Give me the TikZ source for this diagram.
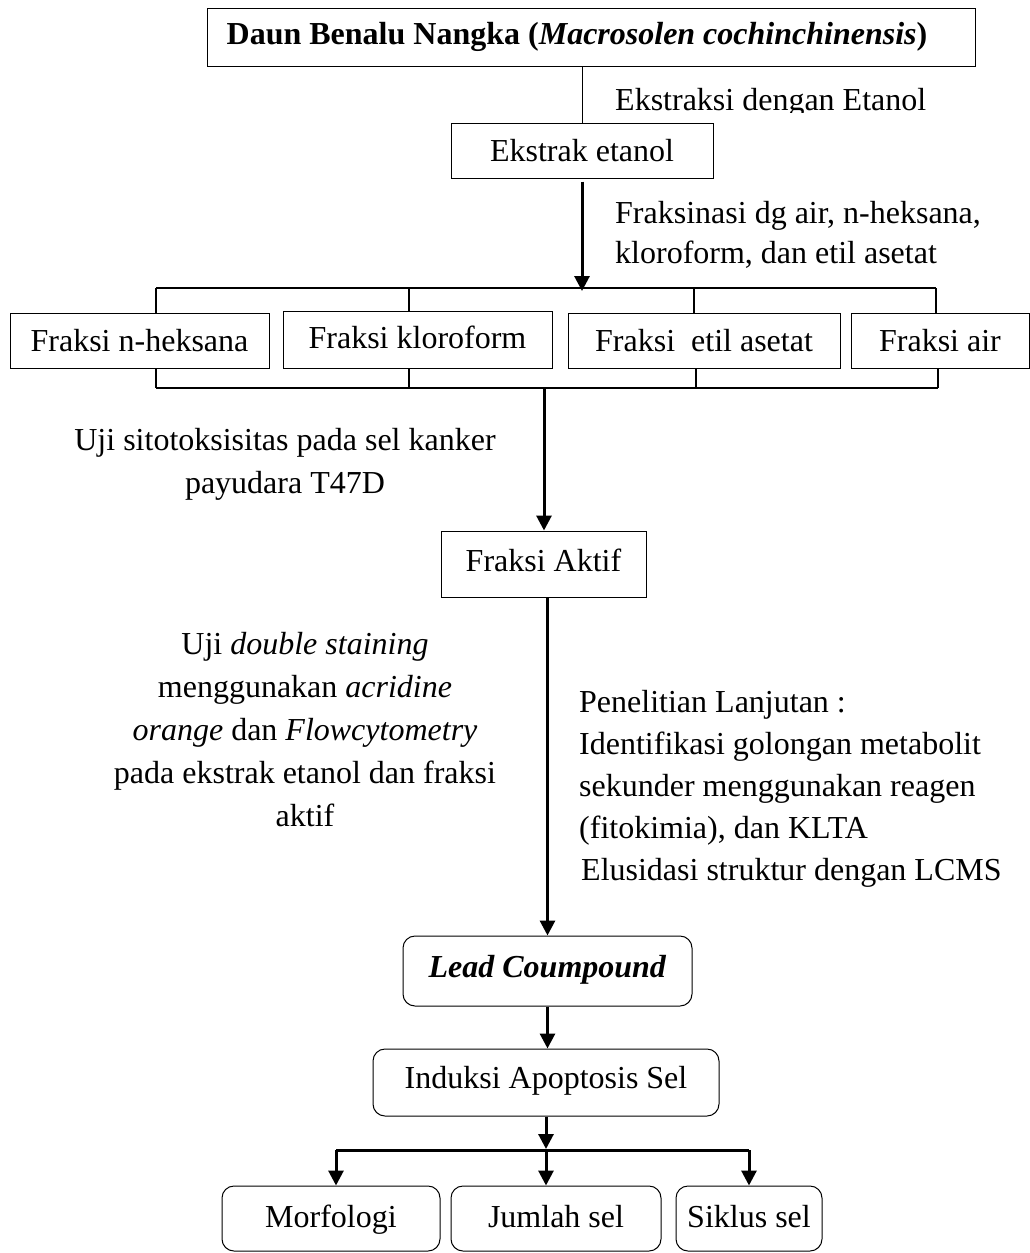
\documentclass[tikz,border=0pt]{standalone}
\usepackage{fontspec}
\setmainfont{Liberation Serif}
\usetikzlibrary{arrows.meta}
\begin{document}
\begin{tikzpicture}[x=1pt,y=-1pt,
  every node/.style={font=\fontsize{32}{42}\selectfont, inner sep=0pt},
  sqbox/.style={draw, line width=1pt, text height=22pt, text depth=0pt},
  rbox/.style={draw, line width=1pt, rounded corners=12pt, text height=22pt, text depth=0pt},
  thinline/.style={line width=1pt},
  bracketline/.style={line width=2pt},
  stem/.style={line width=1.3pt},
  arr/.style={line width=3pt, -{Triangle[length=15pt,width=15pt]}},
  branch/.style={line width=3pt}]
\useasboundingbox (0,0) rectangle (1030,1253);

% top
\node[sqbox, minimum width=768pt, minimum height=58pt] (top) at (591,37) {};
\node[font=\fontsize{32}{42}\selectfont\bfseries] (toptxt) at (577,37) {Daun Benalu Nangka (\textit{Macrosolen cochinchinensis})};
\node[sqbox, minimum width=262pt, minimum height=55pt] (ekstrak) at (582,150.5) {Ekstrak etanol};
\draw[thinline] (ekstrak.north |- top.south) -- (ekstrak.north);
\begin{scope}
  \clip (600,60) rectangle (1000,112);
  \node[anchor=west] (lbleks) at (615,102.5) {Ekstraksi dengan Etanol};
\end{scope}

% fractionation
\coordinate (tb) at (582,288);
\draw[arr] ([yshift=-3pt]ekstrak.south) -- ([yshift=-3pt]tb);
\node[anchor=west, align=left, font=\fontsize{32}{40}\selectfont] (lblfrak) at (615,235) {Fraksinasi dg air, n-heksana,\\kloroform, dan etil asetat};

\node[sqbox, minimum width=259pt, minimum height=55pt] (fnh) at (139.5,340.5) {Fraksi n-heksana};
\node[sqbox, minimum width=269pt, minimum height=57pt] (fkl) at (417.5,339.5) {\raisebox{2pt}{Fraksi kloroform}};
\node[sqbox, minimum width=272pt, minimum height=55pt] (fea) at (704,340.5) {Fraksi\ \ etil asetat};
\node[sqbox, minimum width=178pt, minimum height=55pt] (fair) at (940,340.5) {Fraksi air};

\coordinate (t1) at (156,288);
\coordinate (t2) at (409,288);
\coordinate (t3) at (694,288);
\coordinate (t4) at (936,288);
\draw[bracketline] (t1) -- (t4);
\draw[stem] (t1) -- (t1 |- fnh.north);
\draw[stem] (t2) -- (t2 |- fkl.north);
\draw[stem] (t3) -- (t3 |- fea.north);
\draw[stem] (t4) -- (t4 |- fair.north);

\coordinate (b1) at (156,388);
\coordinate (b2) at (409,388);
\coordinate (b3) at (696,388);
\coordinate (b4) at (938,388);
\draw[bracketline] (b1) -- (b4);
\draw[stem] (b1 |- fnh.south) -- (b1);
\draw[stem] (b2 |- fkl.south) -- (b2);
\draw[stem] (b3 |- fea.south) -- (b3);
\draw[stem] (b4 |- fair.south) -- (b4);

\node[align=center, font=\fontsize{32}{43}\selectfont] (lblsito) at (285,464) {Uji sitotoksisitas pada sel kanker\\payudara T47D};

% active fraction
\node[sqbox, minimum width=205pt, minimum height=66pt] (aktif) at (543.5,564) {\raisebox{4pt}{Fraksi Aktif}};
\coordinate (bb) at (544,388);
\draw[arr] (bb) -- (bb |- aktif.north);

\node[align=center, font=\fontsize{32}{43}\selectfont] (lblds) at (305,730) {Uji \textit{double staining}\\menggunakan \textit{acridine}\\\textit{orange} dan \textit{Flowcytometry}\\pada ekstrak etanol dan fraksi\\aktif};
\node[anchor=west, align=left, font=\fontsize{32}{42}\selectfont] (lbllanj) at (579,789) {Penelitian Lanjutan :\\Identifikasi golongan metabolit\\sekunder menggunakan reagen\\(fitokimia), dan KLTA\\\hspace{2pt}Elusidasi struktur dengan LCMS};

% lead compound
\node[rbox, minimum width=289pt, minimum height=70pt] (lead) at (547.5,971) {\raisebox{5pt}{\textbf{\textit{Lead Coumpound}}}};
\draw[arr] (lead.north |- aktif.south) -- (lead.north);

\node[rbox, minimum width=346pt, minimum height=67pt] (ind) at (546,1082.5) {\raisebox{5pt}{Induksi Apoptosis Sel}};
\draw[arr] (lead.south) -- (lead.south |- ind.north);

\node[rbox, minimum width=218pt, minimum height=65pt] (morf) at (331,1218.5) {\raisebox{2.5pt}{Morfologi}};
\node[rbox, minimum width=210pt, minimum height=65pt] (jml) at (556,1218.5) {\raisebox{2.5pt}{Jumlah sel}};
\node[rbox, minimum width=146pt, minimum height=65pt] (sik) at (749,1218.5) {\raisebox{2.5pt}{Siklus sel}};

\coordinate (c1) at (336,1150);
\coordinate (c2) at (546,1150);
\coordinate (c3) at (749,1150);
\draw[arr] (ind.south) -- ([yshift=1pt]c2);
\draw[branch] (c1) -- (c3);
\draw[arr] (c1) -- (c1 |- morf.north);
\draw[arr] (c2) -- (c2 |- jml.north);
\draw[arr] (c3) -- (c3 |- sik.north);
\end{tikzpicture}
\end{document}
